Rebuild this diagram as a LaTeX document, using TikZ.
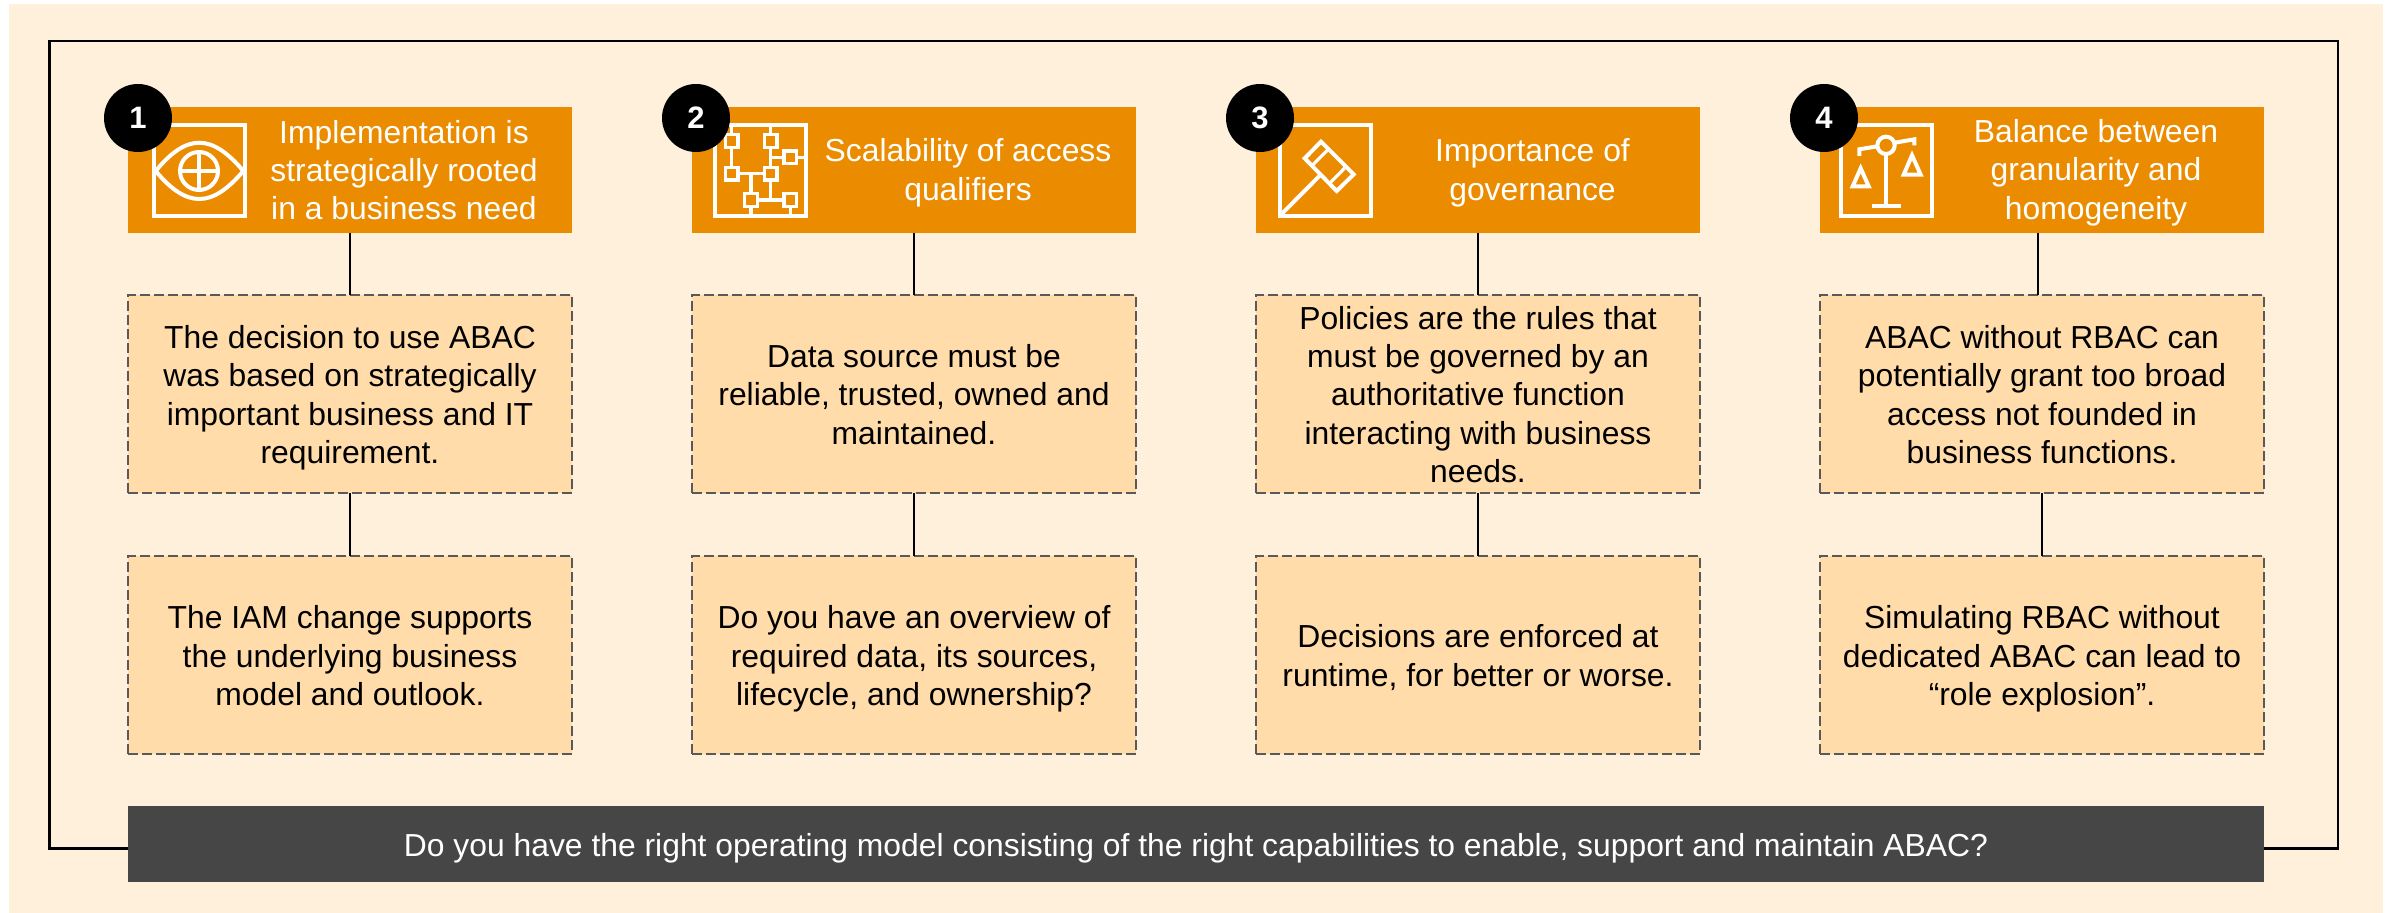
\documentclass[tikz,border=0pt]{standalone}
\usepackage{fontspec}
\setmainfont{Liberation Sans}
\definecolor{pagebg}{HTML}{FFF0DB}
\definecolor{headorange}{HTML}{EB8C00}
\definecolor{boxfill}{HTML}{FFDCA9}
\definecolor{bardark}{HTML}{464646}
\newcommand{\fs}{\rule{0pt}{17pt}}
\newcommand{\laststrut}{\rule[-5pt]{0pt}{5pt}}
\tikzset{
  bodyfont/.style={font=\fontsize{15.92}{19.15}\selectfont},
  evenlines/.style={execute at end node=\laststrut},
  header/.style={fill=headorange,draw=none,inner sep=0pt,outer sep=0pt,minimum width=222pt,minimum height=63pt},
  headtext/.style={bodyfont,evenlines,text=white,align=center,inner sep=0pt},
  infobox/.style={bodyfont,evenlines,fill=boxfill,draw=bardark!90,line width=1pt,dash pattern=on 5pt off 2pt,inner sep=0pt,outer sep=0pt,minimum width=222pt,minimum height=99pt,align=center,text=black},
  badge/.style={circle,fill=black,inner sep=0pt,minimum size=34pt,text=white,font=\fontsize{15.5}{15.5}\selectfont\bfseries},
  link/.style={draw=black,line width=1.25pt},
  iconline/.style={draw=white,line width=2pt,line join=miter},
  iconthin/.style={draw=white,line width=1.6pt,line join=miter},
  iconzoom/.style={x=0.16667pt,y=-0.16667pt},
}
\begin{document}
\begin{tikzpicture}[x=0.5pt,y=-0.5pt]
\useasboundingbox (0,0) rectangle (2391,913);
\fill[pagebg] (9,4) rectangle (2383,913);

% bottom bar and outer frame
\node[fill=bardark,inner sep=0pt,outer sep=0pt,minimum width=1068pt,minimum height=38pt,text=white,bodyfont,evenlines] (bar) at (1196,844) {\fs Do you have the right operating model consisting of the right capabilities to enable, support and maintain ABAC?};
\coordinate (frameTL) at (49.5,41);
\coordinate (frameTR) at (2338,41);
\draw[link,line join=miter] ([yshift=-2.25pt]bar.west) -| (frameTL) -- (frameTR) |- ([yshift=-2.25pt]bar.east);

% headers
\node[header] (h1) at (350,170) {};
\node[header] (h2) at (914,170) {};
\node[header] (h3) at (1478,170) {};
\node[header] (h4) at (2042,170) {};

\node[headtext] (t1) at (404,169.5) {\fs Implementation is\\strategically rooted\\in a business need};
\node[headtext] (t2) at (968,169) {\fs Scalability of access\\qualifiers};
\node[headtext] (t3) at (1532.5,169) {\fs Importance of\\governance};
\node[headtext] (t4) at (2096,169) {\fs Balance between\\granularity and\\homogeneity};

% boxes
\node[infobox] (a1) at (350,394) {\fs The decision to use ABAC\\was based on strategically\\important business and IT\\requirement.};
\node[infobox] (b1) at (350,655) {\fs The IAM change supports\\the underlying business\\model and outlook.};
\node[infobox] (a2) at (914,394) {\fs Data source must be\\reliable, trusted, owned and\\maintained.};
\node[infobox] (b2) at (914,655) {\fs Do you have an overview of\\required data, its sources,\\lifecycle, and ownership?};
\node[infobox] (a3) at (1478,394) {\fs Policies are the rules that\\must be governed by an\\authoritative function\\interacting with business\\needs.};
\node[infobox] (b3) at (1478,655) {\fs Decisions are enforced at\\runtime, for better or worse.};
\node[infobox] (a4) at (2042,394) {\fs ABAC without RBAC can\\potentially grant too broad\\access not founded in\\business functions.};
\node[infobox] (b4) at (2042,655) {\fs Simulating RBAC without\\dedicated ABAC can lead to\\“role explosion”.};

% connectors
\draw[link] (h1.south) -- (a1.north);
\draw[link] (a1.south) -- (b1.north);
\draw[link] (h2.south) -- (a2.north);
\draw[link] (a2.south) -- (b2.north);
\draw[link] (h3.south) -- (a3.north);
\draw[link] (a3.south) -- (b3.north);
\draw[link] ([xshift=-2pt]h4.south) -- ([xshift=-2pt]a4.north);
\draw[link] (a4.south) -- (b4.north);

% icon 1: eye
\begin{scope}[shift={(90,70)},iconzoom]
  \draw[iconline] (192,164) rectangle (465,437);
  \draw[iconline] (197,303) .. controls (290,190) and (365,190) .. (460,303) .. controls (365,415) and (290,415) .. (197,303);
  \draw[iconline] (327,303) circle[radius=57];
  \draw[iconline] (327,246) -- (327,360) (270,303) -- (384,303);
\end{scope}

% icon 2: network
\begin{scope}[shift={(650,70)},iconzoom]
  \draw[iconline] (195,164) rectangle (468,437);
  \foreach \px/\py in {245/213,362/213,421/262,245/311,362/311,303/390,421/390}
    \draw[iconthin] (\px-19,\py-19) rectangle (\px+19,\py+19);
  \draw[iconthin] (245,164) -- (245,194) (362,164) -- (362,194)
    (245,232) -- (245,292) (264,311) -- (343,311)
    (362,232) -- (362,292) (362,262) -- (402,262) (440,262) -- (468,262)
    (362,330) -- (362,390) (322,390) -- (402,390)
    (303,311) -- (303,371) (303,409) -- (303,437) (421,409) -- (421,437);
\end{scope}

% icon 3: gavel
\begin{scope}[shift={(1220,70)},iconzoom]
  \draw[iconline] (180,164) rectangle (453,437);
  \draw[iconline] (303,215) -- (401,313) -- (350,363) -- (254,265) -- cycle;
  \draw[iconthin] (325,238) -- (276,287) (378,290) -- (328,341);
  \draw[iconline] (302,314) -- (182,435);
\end{scope}

% icon 4: scales
\begin{scope}[shift={(1790,70)},iconzoom]
  \draw[iconline] (153,164) rectangle (426,437);
  \draw[iconline] (288,226) circle[radius=26];
  \draw[iconline] (288,252) -- (288,408) (246,408) -- (333,408);
  \draw[iconline] (208,258) -- (208,238) -- (262,229) (315,218) -- (373,208) -- (373,226);
  \draw[iconline] (212,295) -- (236,349) -- (188,349) -- cycle;
  \draw[iconline] (366,256) -- (392,314) -- (341,314) -- cycle;
\end{scope}

% number badges
\node[badge] (n1) at (138,118) {1};
\node[badge] (n2) at (696,118) {2};
\node[badge] (n3) at (1260,118) {3};
\node[badge] (n4) at (1824,118) {4};
\end{tikzpicture}
\end{document}
